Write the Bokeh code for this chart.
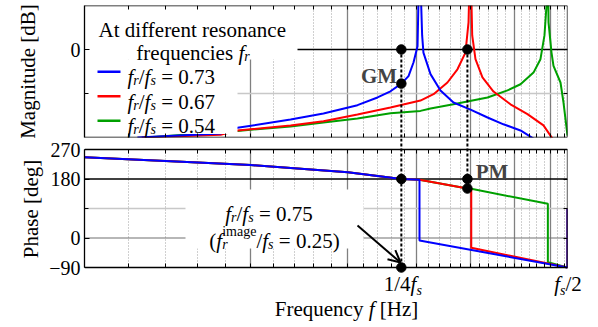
import math
from bokeh.plotting import figure
from bokeh.layouts import column
from bokeh.models import Range1d, FixedTicker, LogAxis, LinearAxis, Span, Label, Arrow, OpenHead, Div
from bokeh.embed import file_html
from bokeh.resources import INLINE

FONT = "Liberation Serif"
NB = "\u00a0"

# ---------------- data ----------------
freq_range = [1000, 7500]          # Hz, log axis
mag_range = [-40, 20]              # dB
phase_range = [-90, 270]           # deg
major_freqs = [1000, 2000, 3000, 4000, 5000, 6000, 7000]
minor_freqs = [f for f in range(1200, 7500, 200) if f % 1000]
mag_label_ticks = [0]
mag_other_ticks = [-20]
phase_label_ticks = [-90, 0, 180, 270]
phase_other_ticks = [90]
fs_quarter = 3750
fs_half = 7500

series_names = ["0.73", "0.67", "0.54"]
series_colors = ["#0000ff", "#ff0000", "#00a000"]

# magnitude [dB]
blue_mag_f = [1247, 1764, 1893, 2362, 2710, 3123, 3395, 3584, 3750, 3864, 3945, 4012, 4045,
              4090, 4112, 4235, 4415, 4661, 5004, 5373, 5742, 6165, 6508]
blue_mag = [-40.0, -38.2, -35.6, -31.8, -29.1, -25.3, -21.8, -19.0, -15.5, -12.1, -5.9, 1.5, 45.0,
            6.4, -1.4, -11.2, -18.6, -24.1, -27.3, -30.9, -34.0, -36.8, -40.5]
red_mag_f = [1270, 1764, 1893, 2362, 2710, 3123, 3584, 4061, 4289, 4545, 4739, 4900, 4963, 5000,
             5040, 5109, 5260, 5508, 5912, 6346, 6785, 7044]
red_mag = [-40.0, -38.8, -36.8, -34.5, -32.6, -29.5, -26.4, -23.2, -20.3, -15.0, -9.0, -1.4, 12.3, 45.0,
           6.4, -4.4, -12.7, -19.1, -24.9, -29.4, -34.5, -40.5]
green_mag_f = [1290, 1893, 2362, 2710, 3123, 3584, 4061, 4235, 4661, 5373, 5839, 6165, 6508, 6700,
               6813, 6871, 6905, 6929, 7016, 7074, 7284, 7376, 7500]
green_mag = [-40.0, -37.0, -35.0, -33.2, -31.4, -29.0, -27.9, -26.8, -24.9, -21.8, -18.6, -15.8, -10.5, -4.4,
             6.4, 20.0, 45.0, 12.3, -1.4, -7.4, -15.0, -24.1, -39.2]

# phase [deg]
blue_ph_f = [1000, 1500, 2000, 2500, 3000, 3750, 4045, 4045, 7500, 7500]
blue_ph = [246.0, 232.5, 222.5, 210.5, 200.5, 180.0, 177.5, -7.6, -90.0, 90.0]
red_ph_f = [1000, 1500, 2000, 2500, 3000, 3750, 4045, 4940, 5020, 5020, 7500, 7500]
red_ph = [246.0, 232.5, 222.5, 210.5, 200.5, 180.0, 177.5, 151.0, 150.0, -30.0, -90.0, 90.0]
green_ph_f = [1000, 1500, 2000, 2500, 3000, 3750, 4045, 4940, 5020, 6910, 6910, 7500, 7500]
green_ph = [246.0, 232.5, 222.5, 210.5, 200.5, 180.0, 177.5, 151.0, 150.0, 104.3, -74.0, -90.0, 90.0]

# GM / PM markers
gm_f = 3750
pm_f = 4940
mag_marker_f = [gm_f, gm_f, pm_f]
mag_marker_db = [0.0, -15.5, 0.0]
ph_marker_f = [gm_f, pm_f, pm_f, gm_f]
ph_marker_deg = [180.0, 180.0, 151.0, -90.0]

# ---------------- layout geometry (pixels) ----------------
W = 598
L, R = 84, 567
T1, B1 = 5, 137          # magnitude frame (canvas y)
H1 = 138
T2, B2 = 149, 267        # phase panel box (canvas y)
T2X, B2X = H1, 279       # phase figure frame extends around the box (gap, edge marker, -90 label)
H2 = B2X - H1
H4 = 327 - H1 - H2       # html strip with x tick labels / axis label
Y4 = H1 + H2


def fx(px):
    return freq_range[0] * (freq_range[1] / freq_range[0]) ** ((px - L) / (R - L))


def px_of_f(f):
    return L + (R - L) * math.log(f / freq_range[0]) / math.log(freq_range[1] / freq_range[0])


def my(py):
    return mag_range[1] - (py - T1) / (B1 - T1) * (mag_range[1] - mag_range[0])


def py_ph(py):
    return phase_range[1] - (py - T2) / (B2 - T2) * (phase_range[1] - phase_range[0])


ROMAN = {' ': .25, NB: .25, '(': .333, ')': .333, '/': .278, '=': .564, '.': .25, '-': .333, '[': .333,
         ']': .333, 'A': .722, 'F': .556, 'H': .722, 'a': .444, 'c': .444, 'd': .5, 'e': .444, 'f': .333,
         'i': .278, 'n': .5, 'o': .5, 'q': .5, 'r': .333, 's': .389, 't': .278, 'u': .5, 'y': .5, 'z': .444,
         'g': .5, 'm': .778}
ITALIC = {'f': .278, 'r': .389, 's': .389}


def text_w(t, style):
    w = 0
    for ch in t:
        if ch.isdigit():
            w += .5
        elif style == "italic" and ch in ITALIC:
            w += ITALIC[ch]
        else:
            w += ROMAN.get(ch, .5)
    return w


def rich(p, x_anchor, x_off, base, yconv, parts, align="left"):
    total = sum(text_w(t, st) * sz for t, st, sz, dy, adv in parts if adv)
    x = x_off - total / 2 if align == "center" else x_off
    for t, st, sz, dy, adv in parts:
        p.add_layout(Label(x=x_anchor, x_offset=x, y=yconv(base + dy), text=t, text_font=FONT,
                           text_font_size=f"{sz}px", text_font_style=st, text_color="black",
                           text_baseline="alphabetic", text_align="left"))
        if adv:
            x += text_w(t, st) * sz


def frac(val):
    # f_r / f_s = val
    return [("f", "italic", 21, 0, True), ("r", "italic", 14, 3.5, True), ("/", "normal", 21, 0, True),
            ("f", "italic", 21, 0, True), ("s", "italic", 14, 3.5, True), (NB + "=" + NB + val, "normal", 21, 0, True)]


def tick_axis(ax, ticker, labels=False):
    ax.ticker = ticker
    ax.major_tick_in = 5
    ax.major_tick_out = 0
    ax.minor_tick_in = 4
    ax.minor_tick_out = 0
    ax.axis_line_color = "black"
    ax.axis_line_width = 1.3
    ax.major_tick_line_color = "black"
    ax.minor_tick_line_color = "black"
    ax.major_label_text_font = FONT
    ax.major_label_text_font_size = "20px"
    ax.major_label_text_color = "black"
    ax.major_label_standoff = 4 if labels else 0


def make_fig(height, box, yr, top, bottom, label_ticks, other_ticks, ylabel, standoff):
    p = figure(width=W, height=height, x_axis_type="log", x_range=Range1d(*freq_range), y_range=Range1d(*yr),
               output_backend="svg", toolbar_location=None, min_border_left=L, min_border_right=W - R,
               min_border_top=top, min_border_bottom=bottom)
    p.background_fill_color = "white"
    p.border_fill_color = "white"
    p.outline_line_color = None
    # panel box edges: axes with inward tick marks, fixed on the box edges
    xt = FixedTicker(ticks=[], minor_ticks=major_freqs + minor_freqs)
    tick_axis(p.xaxis[0], xt)
    p.xaxis[0].fixed_location = box[0]
    top_ax = LogAxis(fixed_location=box[1])
    tick_axis(top_ax, xt)
    p.add_layout(top_ax, "above")
    left_ax = p.yaxis[0]
    tick_axis(left_ax, FixedTicker(ticks=label_ticks, minor_ticks=other_ticks), True)
    left_ax.bounds = tuple(box)
    left_ax.axis_label = ylabel
    left_ax.axis_label_text_font = FONT
    left_ax.axis_label_text_font_size = "21px"
    left_ax.axis_label_text_font_style = "normal"
    left_ax.axis_label_text_color = "black"
    left_ax.axis_label_standoff = standoff
    right_ax = LinearAxis(fixed_location=freq_range[1], bounds=tuple(box))
    tick_axis(right_ax, FixedTicker(ticks=[], minor_ticks=label_ticks + other_ticks))
    p.add_layout(right_ax, "right")
    # grid
    p.xgrid.ticker = FixedTicker(ticks=major_freqs[1:], minor_ticks=minor_freqs)
    p.xgrid.grid_line_color = "#808080"
    p.xgrid.grid_line_width = 1.3
    p.xgrid.minor_grid_line_color = "#a0a0a0"
    p.xgrid.minor_grid_line_dash = "1 2"
    p.xgrid.minor_grid_line_width = 1
    p.ygrid.ticker = FixedTicker(ticks=other_ticks)
    p.ygrid.grid_line_color = "#c8c8c8"
    p.ygrid.grid_line_width = 1.5
    return p


# ---------------- magnitude panel ----------------
p1 = make_fig(H1, mag_range, mag_range, T1, H1 - B1, mag_label_ticks, mag_other_ticks, "Magnitude [dB]", 28)
p1.add_layout(Span(location=0, dimension="width", line_color="black", line_width=1.6, level="underlay"))

for f, m, c in [(green_mag_f, green_mag, series_colors[2]), (red_mag_f, red_mag, series_colors[1]),
                (blue_mag_f, blue_mag, series_colors[0])]:
    p1.line(f, m, line_color=c, line_width=2)

p1.segment(x0=[gm_f, pm_f], y0=[0, 0], x1=[gm_f, pm_f], y1=[mag_range[0]] * 2,
           line_color="black", line_width=2, line_dash="3 2")
p1.scatter(mag_marker_f, mag_marker_db, size=9.5, color="black")

# legend (white boxes + lines + texts)
p1.quad(left=[fx(L)], right=[fx(297)], top=[my(T1)], bottom=[my(59)], fill_color="white", line_color=None)
p1.quad(left=[fx(L)], right=[fx(237)], top=[my(59)], bottom=[my(133.5)], fill_color="white", line_color=None)
leg_base = [76.5, 101, 125.5]
leg_y = [b - 5.3 for b in leg_base]
p1.segment(x0=[fx(97)] * 3, x1=[fx(120)] * 3, y0=[my(v) for v in leg_y], y1=[my(v) for v in leg_y],
           line_color=series_colors, line_width=2.5)
x0 = freq_range[0]
rich(p1, x0, 192 - L, 29, my, [("At different resonance", "normal", 21, 0, True)], "center")
rich(p1, x0, 192.5 - L, 52, my, [("frequencies" + NB, "normal", 21, 0, True), ("f", "italic", 21, 0, True),
                                 ("r", "italic", 14, 3.5, True)], "center")
for base, name in zip(leg_base, series_names):
    rich(p1, x0, 127 - L, base, my, frac(name))
p1.add_layout(Label(x=fx(378.5), y=my(75), text="GM", text_font=FONT, text_font_size="21px",
                    text_font_style="bold", text_align="center", text_baseline="alphabetic"))

# ---------------- phase panel ----------------
p2 = make_fig(H2, phase_range, [py_ph(B2X), py_ph(T2X)], 0, 0,
              phase_label_ticks, phase_other_ticks, "Phase [deg]", 3)
p2.add_layout(Span(location=0, dimension="width", line_color="#707070", line_width=1.2, level="underlay"))
p2.add_layout(Span(location=180, dimension="width", line_color="black", line_width=1.6, level="underlay"))
# blank out the grid outside the panel box (gap above, strip below)
p2.quad(left=[freq_range[0]] * 2, right=[freq_range[1]] * 2, top=[phase_range[0], py_ph(T2X)],
        bottom=[py_ph(B2X), phase_range[1]], fill_color="white", line_color=None)

for f, ph, c in [(green_ph_f, green_ph, series_colors[2]), (red_ph_f, red_ph, series_colors[1]),
                 (blue_ph_f, blue_ph, series_colors[0])]:
    p2.line(f, ph, line_color=c, line_width=2)

# dotted guides continue through the gap between the two panels
p2.segment(x0=[gm_f, pm_f], y0=[py_ph(T2X)] * 2, x1=[gm_f, pm_f], y1=[phase_range[0], 180],
           line_color="black", line_width=2, line_dash="3 2")
p2.scatter(ph_marker_f, ph_marker_deg, size=9.5, color="black")

# annotation box + texts
p2.quad(left=[fx(185)], right=[fx(363)], top=[py_ph(189)], bottom=[py_ph(248)], fill_color="white", line_color=None)
rich(p2, x0, 268.5 - L, 213, py_ph, frac("0.75"), "center")
rich(p2, x0, 274 - L, 240, py_ph, [("(", "normal", 21, 0, True), ("f", "italic", 21, 0, True),
                                   ("r", "italic", 14, 3.5, False), ("image", "normal", 14, -9, True),
                                   ("/", "normal", 21, 0, True), ("f", "italic", 21, 0, True),
                                   ("s", "italic", 14, 3.5, True), (NB + "=" + NB + "0.25)", "normal", 21, 0, True)],
     "center")
p2.add_layout(Arrow(end=OpenHead(size=12, line_width=2, line_color="black"), x_start=fx(357), y_start=py_ph(225),
                    x_end=fx(400), y_end=py_ph(262), line_width=2, line_color="black"))
p2.add_layout(Label(x=fx(491.5), y=py_ph(171.7), text="PM", text_font=FONT, text_font_size="21px",
                    text_font_style="bold", text_align="center", text_baseline="alphabetic"))

# ---------------- x tick labels and axis label (rich text) ----------------
SUB = "font-size:14px;font-style:italic;position:relative;top:4px;line-height:0"
LH = 10
BASE_OFF = (LH - 1.107 * 21) / 2 + 0.891 * 21


def span(cx, base, inner):
    top = base - Y4 - BASE_OFF
    return (f'<span style="position:absolute;left:{cx:.1f}px;top:{top:.1f}px;transform:translateX(-50%);'
            f'white-space:nowrap;line-height:{LH}px;font-size:21px;">{inner}</span>')


html = (f'<div style="position:relative;width:{W}px;height:{H4}px;font-family:\'{FONT}\';color:black;">'
        + span(px_of_f(fs_quarter) + 2, 291, f'1/4<i>f</i><span style="{SUB}">s</span>')
        + span(px_of_f(fs_half) + 1, 291, f'<i>f</i><span style="{SUB}">s</span>/2')
        + span(346.5, 316.5, 'Frequency <i>f</i> [Hz]')
        + '</div>')
labels_div = Div(text=html, width=W, height=H4, margin=0, styles={"padding": "0", "margin": "0"})

layout = column(p1, p2, labels_div)
open("out.html", "w").write(file_html(layout, INLINE))
